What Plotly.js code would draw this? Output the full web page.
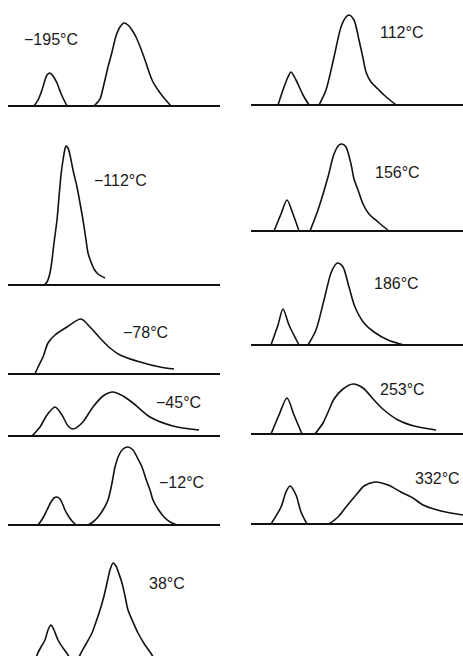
<!DOCTYPE html>
<html>
<head>
<meta charset="utf-8">
<script src="https://cdn.plot.ly/plotly-3.0.1.min.js"></script>
<style>html,body{margin:0;padding:0;background:#fff;}#chart{width:463px;height:656px;}</style>
</head>
<body>
<div id="chart"></div>
<script>
// ---- panel labels (temperatures) ----
const panelLabels = ['\u2212195°C', '\u2212112°C', '\u221278°C', '\u221245°C', '\u221212°C', '38°C',
                     '112°C', '156°C', '186°C', '253°C', '332°C'];

// ---- curve data: x = position along trace, y = intensity above baseline ----
// −195 °C
const m195_small_x = [26, 30, 34, 37, 39, 42, 45, 49, 52, 55, 59];
const m195_small_y = [0, 6, 16, 26, 31, 33, 30, 23, 15, 8, 0];
const m195_big_x = [86, 88, 92, 96, 100, 104, 108, 112, 116, 120, 124, 128, 133, 137, 141, 145, 150, 156, 163];
const m195_big_y = [0, 2, 7, 22, 39, 54, 70, 79, 83, 81, 76, 69, 57, 46, 34, 24, 16, 8, 0];
// −112 °C
const m112_x = [36, 39, 42, 44, 46, 49, 51, 53, 55, 57, 58, 60, 62, 65, 69, 72, 75, 78, 80, 83, 86, 90, 97];
const m112_y = [0, 3, 12, 25, 42, 65, 88, 110, 125, 136, 139, 137, 130, 115, 98, 82, 65, 45, 32, 23, 16, 11, 7];
// −78 °C
const m78_x = [27, 30, 35, 40, 47, 59, 73, 82, 92, 102, 112, 132, 152, 166];
const m78_y = [0, 7, 17, 31, 39, 47, 55, 47, 36, 26, 19, 12, 7, 5];
// −45 °C
const m45_x = [24, 32, 39, 47, 54, 60, 65, 74, 85, 95, 105, 115, 125, 142, 165, 191];
const m45_y = [0, 9, 21, 29, 21, 10, 7, 13, 29, 40, 44, 40, 33, 19, 10, 6];
// −12 °C
const m12_small_x = [30, 33, 36, 39, 43, 46, 49, 52, 55, 57, 61, 64, 68];
const m12_small_y = [0, 4, 9, 15, 23, 27, 28, 26, 20, 15, 8, 4, 0];
const m12_big_x = [80, 85, 90, 95, 100, 104, 107, 111, 115, 120, 125, 130, 134, 138, 142, 145, 150, 156, 162, 169];
const m12_big_y = [0, 3, 8, 15, 25, 42, 58, 70, 76, 78, 75, 66, 58, 46, 35, 25, 16, 8, 3, 0];
// 38 °C
const p38_small_x = [22, 26, 29, 33, 37, 40, 43, 46, 50, 55, 60, 65, 70];
const p38_small_y = [0, 12, 25, 33, 40, 50, 55, 50, 40, 32, 25, 12, 0];
const p38_big_x = [62, 67, 72, 78, 84, 88, 92, 96, 99, 102, 105, 108, 111, 114, 117, 120, 125, 130, 137, 144, 152, 158];
const p38_big_y = [0, 10, 25, 36, 47, 58, 70, 84, 97, 110, 117, 114, 106, 97, 84, 70, 58, 47, 35, 25, 10, 0];
// 112 °C
const p112_small_x = [27, 33, 37, 40, 45, 52, 58];
const p112_small_y = [0, 18, 28, 33, 25, 10, 0];
const p112_big_x = [68, 75, 83, 90, 95, 98, 103, 108, 112, 115, 120, 127, 133, 140, 145];
const p112_big_y = [0, 15, 48, 78, 88, 90, 85, 65, 47, 33, 23, 16, 10, 4, 0];
// 156 °C
const p156_small_x = [23, 30, 36, 42, 48];
const p156_small_y = [0, 17, 31, 17, 0];
const p156_big_x = [59, 67, 77, 83, 88, 91, 95, 100, 103, 107, 112, 118, 127, 138];
const p156_big_y = [0, 21, 54, 77, 86, 87, 84, 67, 52, 41, 27, 17, 9, 0];
// 186 °C
const p186_small_x = [20, 27, 32, 38, 48];
const p186_small_y = [0, 20, 36, 20, 0];
const p186_big_x = [57, 65, 73, 80, 85, 87, 92, 98, 104, 113, 123, 137, 153];
const p186_big_y = [0, 15, 45, 72, 81, 82, 78, 58, 38, 22, 13, 5, 0];
// 253 °C
const p253_small_x = [20, 28, 36, 43, 51];
const p253_small_y = [0, 19, 36, 19, 0];
const p253_big_x = [64, 72, 78, 83, 92, 102, 112, 123, 133, 147, 163, 185];
const p253_big_y = [0, 11, 24, 35, 45, 50, 46, 34, 24, 14, 8, 4];
// 332 °C
const p332_small_x = [20, 30, 35, 39, 45, 50, 56];
const p332_small_y = [0, 17, 32, 38, 29, 12, 0];
const p332_big_x = [78, 87, 95, 105, 113, 124, 137, 150, 162, 172, 190, 212];
const p332_big_y = [0, 7, 17, 29, 38, 42, 39, 32, 26, 19, 13, 9];

// ---- panel layout (left column / right column), baseline pixel row ----
const panels = [
  {col: 0, base: 106, curves: [[m195_small_x, m195_small_y], [m195_big_x, m195_big_y]], line: true, lab: [22, 39]},
  {col: 0, base: 285, curves: [[m112_x, m112_y]], line: true, lab: [92, 180]},
  {col: 0, base: 374, curves: [[m78_x, m78_y]], line: true, lab: [121, 333]},
  {col: 0, base: 436, curves: [[m45_x, m45_y]], line: true, lab: [154, 402]},
  {col: 0, base: 525, curves: [[m12_small_x, m12_small_y], [m12_big_x, m12_big_y]], line: true, lab: [157, 482]},
  {col: 0, base: 680, curves: [[p38_small_x, p38_small_y], [p38_big_x, p38_big_y]], line: false, lab: [147, 583]},
  {col: 1, base: 105, curves: [[p112_small_x, p112_small_y], [p112_big_x, p112_big_y]], line: true, lab: [378, 33]},
  {col: 1, base: 231, curves: [[p156_small_x, p156_small_y], [p156_big_x, p156_big_y]], line: true, lab: [373, 173]},
  {col: 1, base: 345, curves: [[p186_small_x, p186_small_y], [p186_big_x, p186_big_y]], line: true, lab: [372, 284]},
  {col: 1, base: 434, curves: [[p253_small_x, p253_small_y], [p253_big_x, p253_big_y]], line: true, lab: [378, 389]},
  {col: 1, base: 524, curves: [[p332_small_x, p332_small_y], [p332_big_x, p332_big_y]], line: true, lab: [413, 478]}
];

const W = 463, Hh = 656;
const colLeft = [8, 251], colWidth = 212;
const traces = [];
const layout = {
  width: W, height: Hh,
  margin: {l: 0, r: 0, t: 0, b: 0},
  paper_bgcolor: '#fff', plot_bgcolor: 'rgba(0,0,0,0)',
  showlegend: false,
  annotations: []
};

panels.forEach((p, i) => {
  const n = i + 1;
  const xa = 'x' + (n === 1 ? '' : n), ya = 'y' + (n === 1 ? '' : n);
  const bottomPx = Math.min(p.base + 5, Hh);
  const rMin = p.base - bottomPx;
  const H = Math.min(150, bottomPx);
  const left = colLeft[p.col];
  layout['xaxis' + (n === 1 ? '' : n)] = {
    domain: [left / W, Math.min(1, (left + colWidth) / W)],
    range: [0, colWidth], visible: false, anchor: ya, fixedrange: true
  };
  layout['yaxis' + (n === 1 ? '' : n)] = {
    domain: [(Hh - bottomPx) / Hh, (Hh - bottomPx + H) / Hh],
    range: [rMin, rMin + H], anchor: xa,
    showgrid: false, showticklabels: false, ticks: '', showline: false,
    zeroline: p.line, zerolinecolor: '#111', zerolinewidth: 1.6, fixedrange: true
  };
  p.curves.forEach(c => {
    traces.push({
      x: c[0], y: c[1], xaxis: xa, yaxis: ya, type: 'scatter', mode: 'lines',
      line: {color: '#111', width: 1.6, shape: 'spline', smoothing: 0.8},
      hoverinfo: 'skip'
    });
  });
  layout.annotations.push({
    xref: 'paper', yref: 'paper', x: p.lab[0] / W, y: 1 - p.lab[1] / Hh,
    xanchor: 'left', yanchor: 'middle', showarrow: false,
    text: panelLabels[i],
    font: {family: 'Liberation Sans, Arial, sans-serif', size: 16, color: '#1a1a1a'}
  });
});

Plotly.newPlot('chart', traces, layout, {displayModeBar: false, staticPlot: true});
</script>
</body>
</html>
